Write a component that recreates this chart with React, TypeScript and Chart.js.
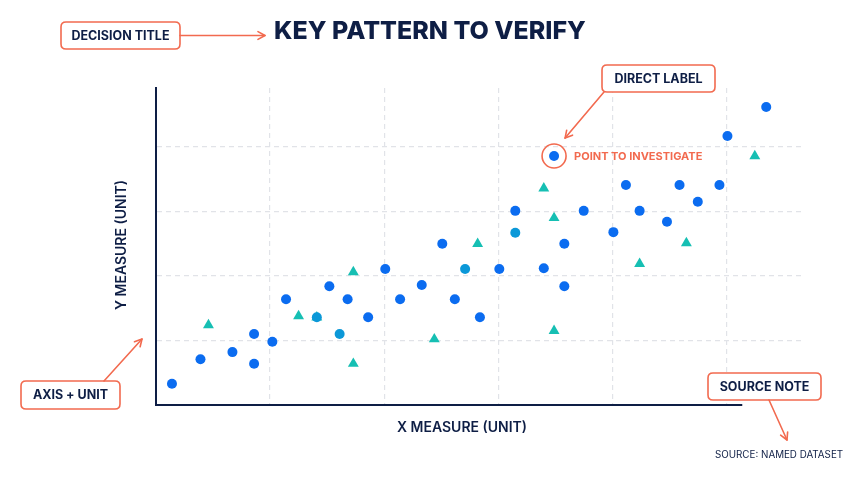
import { useEffect, useRef } from "react";
import { Chart, registerables } from "chart.js";

Chart.register(...registerables);

// ---- data (x and y in axis units, one grid step = 1 unit) ----
const primaryX = [0.14, 0.39, 0.67, 0.86, 0.86, 1.02, 1.14, 1.52, 1.68, 1.86, 2.01, 2.14, 2.33, 2.51, 2.62, 2.84, 3.01, 3.15, 3.4, 3.49, 3.58, 3.58, 3.75, 4.01, 4.12, 4.24, 4.48, 4.59, 4.75, 4.94, 5.01, 5.35];
const primaryY = [0.33, 0.71, 0.82, 1.1, 0.64, 0.98, 1.64, 1.84, 1.64, 1.36, 2.11, 1.64, 1.86, 2.5, 1.64, 1.36, 2.11, 3.01, 2.12, 3.86, 2.5, 1.84, 3.01, 2.68, 3.41, 3.01, 2.84, 3.41, 3.15, 3.41, 4.17, 4.62];

const overlapX = [1.41, 1.61, 2.71, 3.15];
const overlapY = [1.36, 1.1, 2.11, 2.67];

const secondaryX = [0.46, 1.25, 1.41, 1.73, 1.73, 2.44, 2.82, 3.4, 3.49, 3.49, 4.24, 4.65, 5.25];
const secondaryY = [1.24, 1.38, 1.36, 2.06, 0.64, 1.02, 2.5, 3.36, 2.9, 1.15, 2.19, 2.51, 3.86];

const gridTicksX = [1, 2, 3, 4, 5];
const gridTicksY = [1, 2, 3, 4];

const investigatePoint = { x: 3.49, y: 3.86 };

const X_MAX = 5.69;
const Y_MAX = 4.915;
const X_AXIS_END = 5.14;

const TITLE = "KEY PATTERN TO VERIFY";
const X_TITLE = "X MEASURE (UNIT)";
const Y_TITLE = "Y MEASURE (UNIT)";
const SOURCE = "SOURCE: NAMED DATASET";
const POINT_LABEL = "POINT TO INVESTIGATE";

const NAVY = "#0e1e45";
const CORAL = "#f26a4f";
const BLUE = "#0b6cf0";
const LIGHT_BLUE = "#0b98d8";
const TEAL = "#16bfb3";
const GRID = "#e1e3e8";
const FONT = "Inter, 'Noto Sans', sans-serif";

function toPoints(xs: number[], ys: number[]) {
  return xs.map((x, i) => ({ x, y: ys[i] }));
}

function roundRect(ctx: CanvasRenderingContext2D, x: number, y: number, w: number, h: number, r: number) {
  ctx.beginPath();
  ctx.moveTo(x + r, y);
  ctx.lineTo(x + w - r, y);
  ctx.quadraticCurveTo(x + w, y, x + w, y + r);
  ctx.lineTo(x + w, y + h - r);
  ctx.quadraticCurveTo(x + w, y + h, x + w - r, y + h);
  ctx.lineTo(x + r, y + h);
  ctx.quadraticCurveTo(x, y + h, x, y + h - r);
  ctx.lineTo(x, y + r);
  ctx.quadraticCurveTo(x, y, x + r, y);
  ctx.closePath();
}

function labelBox(ctx: CanvasRenderingContext2D, text: string, x: number, y: number, w: number, h: number) {
  ctx.save();
  roundRect(ctx, x, y, w, h, 5);
  ctx.fillStyle = "#ffffff";
  ctx.fill();
  ctx.lineWidth = 1.6;
  ctx.strokeStyle = CORAL;
  ctx.stroke();
  ctx.fillStyle = NAVY;
  ctx.font = `700 12.5px ${FONT}`;
  ctx.textAlign = "center";
  ctx.textBaseline = "middle";
  ctx.fillText(text, x + w / 2, y + h / 2 + 0.5);
  ctx.restore();
}

function arrow(ctx: CanvasRenderingContext2D, x1: number, y1: number, x2: number, y2: number) {
  ctx.save();
  ctx.strokeStyle = CORAL;
  ctx.fillStyle = CORAL;
  ctx.lineWidth = 1.6;
  ctx.lineCap = "round";
  ctx.lineJoin = "round";
  ctx.beginPath();
  ctx.moveTo(x1, y1);
  ctx.lineTo(x2, y2);
  ctx.stroke();
  const a = Math.atan2(y2 - y1, x2 - x1);
  const L = 8;
  const s = 0.5;
  ctx.beginPath();
  ctx.moveTo(x2 - L * Math.cos(a - s), y2 - L * Math.sin(a - s));
  ctx.lineTo(x2, y2);
  ctx.lineTo(x2 - L * Math.cos(a + s), y2 - L * Math.sin(a + s));
  ctx.stroke();
  ctx.restore();
}

const decorPlugin = {
  id: "decor",
  beforeDatasetsDraw(chart: any) {
    const { ctx, scales } = chart;
    const x = scales.x;
    const y = scales.y;
    ctx.save();
    ctx.setLineDash([]);
    ctx.strokeStyle = NAVY;
    ctx.lineWidth = 2;
    ctx.beginPath();
    ctx.moveTo(x.getPixelForValue(0) - 1, y.getPixelForValue(0));
    ctx.lineTo(x.getPixelForValue(X_AXIS_END), y.getPixelForValue(0));
    ctx.stroke();
    ctx.restore();
  },
  afterDraw(chart: any) {
    const { ctx, scales } = chart;
    const sx = scales.x;
    const sy = scales.y;
    ctx.save();

    // title
    ctx.fillStyle = NAVY;
    ctx.font = `800 25px ${FONT}`;
    ctx.textAlign = "center";
    ctx.textBaseline = "middle";
    ctx.fillText(TITLE, 430, 31);

    // axis titles
    ctx.font = `600 14px ${FONT}`;
    ctx.fillText(X_TITLE, 462, 428);
    ctx.save();
    ctx.translate(122, 245);
    ctx.rotate(-Math.PI / 2);
    ctx.fillText(Y_TITLE, 0, 0);
    ctx.restore();

    // source
    ctx.font = `400 9.8px ${FONT}`;
    ctx.textAlign = "left";
    ctx.fillText(SOURCE, 715, 455);

    // highlighted point
    const px = sx.getPixelForValue(investigatePoint.x);
    const py = sy.getPixelForValue(investigatePoint.y);
    ctx.strokeStyle = CORAL;
    ctx.lineWidth = 1.6;
    ctx.beginPath();
    ctx.arc(px, py, 12, 0, Math.PI * 2);
    ctx.stroke();
    ctx.fillStyle = CORAL;
    ctx.font = `700 11px ${FONT}`;
    ctx.textAlign = "left";
    ctx.textBaseline = "middle";
    ctx.fillText(POINT_LABEL, px + 20, py + 0.5);
    ctx.restore();

    // annotation boxes and arrows
    labelBox(ctx, "DECISION TITLE", 61, 22, 119, 27);
    arrow(ctx, 180, 35.5, 265, 35.5);

    labelBox(ctx, "DIRECT LABEL", 602, 65, 113, 27);
    arrow(ctx, 604, 92, px + 11, py - 18);

    labelBox(ctx, "AXIS + UNIT", 21, 381, 99, 28);
    arrow(ctx, 104, 381, 142, 339);

    labelBox(ctx, "SOURCE NOTE", 708, 373, 113, 27);
    arrow(ctx, 769, 400, 787, 440);
  },
};

export default function App() {
  const ref = useRef<HTMLCanvasElement | null>(null);

  useEffect(() => {
    document.body.style.margin = "0";
    document.body.style.background = "#ffffff";
    if (!ref.current) return;
    const chart = new Chart(ref.current, {
      type: "scatter",
      data: {
        datasets: [
          {
            label: "Primary",
            data: toPoints(primaryX, primaryY),
            pointStyle: "circle",
            pointRadius: 5,
            pointHoverRadius: 5,
            backgroundColor: BLUE,
            borderColor: BLUE,
            borderWidth: 0,
            order: 0,
          },
          {
            label: "Overlap",
            data: toPoints(overlapX, overlapY),
            pointStyle: "circle",
            pointRadius: 5,
            pointHoverRadius: 5,
            backgroundColor: LIGHT_BLUE,
            borderColor: LIGHT_BLUE,
            borderWidth: 0,
            order: 1,
          },
          {
            label: "Secondary",
            data: toPoints(secondaryX, secondaryY),
            pointStyle: "triangle",
            pointRadius: 6.3,
            pointHoverRadius: 6.3,
            backgroundColor: TEAL,
            borderColor: TEAL,
            borderWidth: 0,
            order: 2,
          },
        ],
      },
      options: {
        animation: false,
        responsive: true,
        maintainAspectRatio: false,
        layout: { padding: { left: 156, right: 55, top: 88, bottom: 79 } },
        plugins: {
          legend: { display: false },
          tooltip: { enabled: false },
          title: { display: false },
        },
        scales: {
          x: {
            type: "linear",
            min: 0,
            max: X_MAX,
            afterBuildTicks: (scale: any) => {
              scale.ticks = [0, ...gridTicksX].map((v) => ({ value: v }));
            },
            ticks: { display: false, includeBounds: false },
            grid: {
              drawTicks: false,
              color: (c: any) => (c.tick && c.tick.value === 0 ? "rgba(0,0,0,0)" : GRID),
              lineWidth: 1.2,
            },
            border: { display: false, dash: [5, 4] },
          },
          y: {
            type: "linear",
            min: 0,
            max: Y_MAX,
            afterBuildTicks: (scale: any) => {
              scale.ticks = [0, ...gridTicksY].map((v) => ({ value: v }));
            },
            ticks: { display: false, includeBounds: false },
            grid: {
              drawTicks: false,
              color: (c: any) => (c.tick && c.tick.value === 0 ? "rgba(0,0,0,0)" : GRID),
              lineWidth: 1.2,
            },
            border: { display: true, color: NAVY, width: 2, dash: [5, 4] },
          },
        },
      } as any,
      plugins: [decorPlugin],
    });
    return () => chart.destroy();
  }, []);

  return (
    <div style={{ position: "relative", width: 860, height: 484 }}>
      <canvas ref={ref} />
    </div>
  );
}
